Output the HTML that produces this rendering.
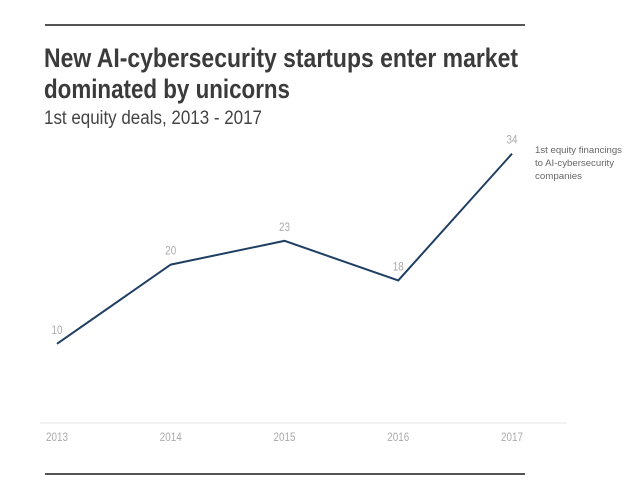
<!DOCTYPE html>
<html><head><meta charset="utf-8"><style>
body{margin:0;background:#fff;width:640px;height:501px;overflow:hidden}
svg{display:block}
.t{font-family:"Liberation Sans",sans-serif;font-weight:bold;font-size:27px;fill:#3b3b3b}
.s{font-family:"Liberation Sans",sans-serif;font-size:19px;fill:#444}
.v{font-family:"Liberation Sans",sans-serif;font-size:12px;fill:#aaa}
.l{font-family:"Liberation Sans",sans-serif;font-size:9.5px;fill:#666}
</style></head><body>
<svg id="c" width="640" height="501">
<line x1="45" y1="25" x2="525" y2="25" stroke="#555" stroke-width="2"/>
<text class="t" x="44" y="67" textLength="474" lengthAdjust="spacingAndGlyphs">New AI-cybersecurity startups enter market</text>
<text class="t" x="44" y="98" textLength="246" lengthAdjust="spacingAndGlyphs">dominated by unicorns</text>
<text class="s" x="44" y="124" textLength="218" lengthAdjust="spacingAndGlyphs">1st equity deals, 2013 - 2017</text>
<line x1="40" y1="423" x2="567" y2="423" stroke="#e6e6e6" stroke-width="1"/>
<line x1="45" y1="474" x2="525" y2="474" stroke="#555" stroke-width="2"/>
<g id="marks"></g>
<text class="l" x="535" y="153" textLength="87" lengthAdjust="spacingAndGlyphs">1st equity financings</text>
<text class="l" x="535" y="166" textLength="79" lengthAdjust="spacingAndGlyphs">to  AI-cybersecurity</text>
<text class="l" x="535" y="179" textLength="47" lengthAdjust="spacingAndGlyphs">companies</text>
</svg>
<script>
const years=["2013","2014","2015","2016","2017"];
const deals=[10,20,23,18,34];
const NS="http://www.w3.org/2000/svg";
function x(i){return 57+i*113.75;}
function y(v){return 423-v*7.92;}
const g=document.getElementById('marks');
let d=deals.map((v,i)=>(i?'L':'M')+x(i)+' '+y(v)).join(' ');
const p=document.createElementNS(NS,'path');
p.setAttribute('d',d);p.setAttribute('fill','none');p.setAttribute('stroke','#1f3f63');p.setAttribute('stroke-width','2');


g.appendChild(p);
deals.forEach((v,i)=>{
 const t=document.createElementNS(NS,'text');
 t.setAttribute('class','v');t.setAttribute('x',x(i));t.setAttribute('y',y(v)-10);t.setAttribute('text-anchor','middle');
 t.setAttribute('transform','translate('+x(i)+' 0) scale(0.82 1) translate('+(-x(i))+' 0)');
 t.textContent=v;
 
 
 g.appendChild(t);
});
years.forEach((yr,i)=>{
 const t=document.createElementNS(NS,'text');
 t.setAttribute('class','v');t.setAttribute('x',x(i));t.setAttribute('y',441);t.setAttribute('text-anchor','middle');
 t.setAttribute('transform','translate('+x(i)+' 0) scale(0.82 1) translate('+(-x(i))+' 0)');
 t.textContent=yr;
 
 
 g.appendChild(t);
});
</script>
</body></html>
